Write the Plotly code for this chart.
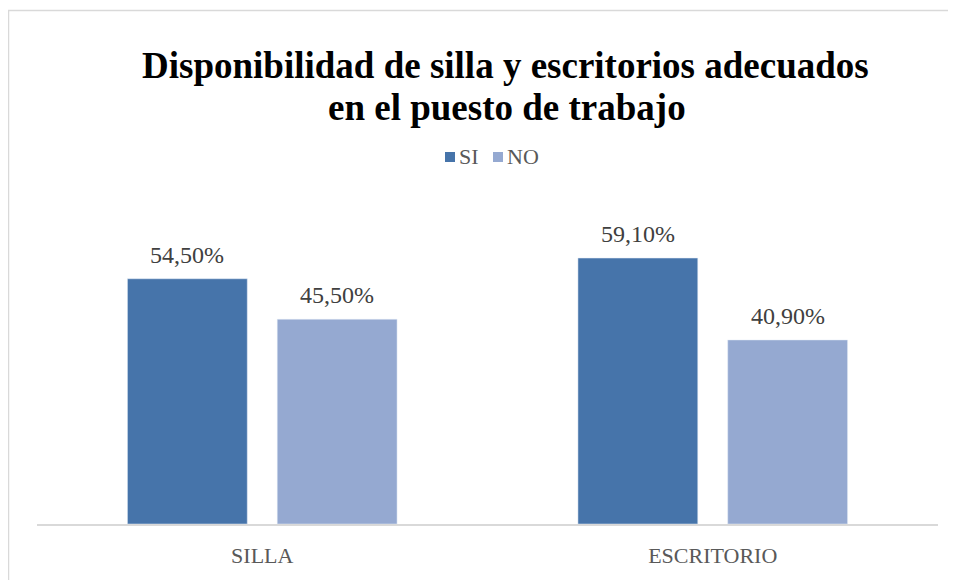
import plotly.graph_objects as go

categories = ["SILLA", "ESCRITORIO"]
series_names = ["SI", "NO"]
si_values = [54.5, 59.1]
no_values = [45.5, 40.9]
si_labels = ["54,50%", "59,10%"]
no_labels = ["45,50%", "40,90%"]
title_lines = ["Disponibilidad de silla y escritorios adecuados", "en el puesto de trabajo"]

# page body adds an 8px margin, so figure coords = screen coords - 8
OFF = 8
W, H = 956 - OFF, 580 - OFF
ml, mr, mt, mb = 29, 18, 201, 56
pw, ph = W - ml - mr, H - mt - mb

def px(x):
    return (x - OFF - ml) / pw

def py(y):
    return (H - mb - (y - OFF)) / ph

SI_COLOR, NO_COLOR = "#4674AA", "#95A9D1"
BARGAP, BARGROUPGAP = 0.335, 0.2
SERIF = "Liberation Serif"

fig = go.Figure()
fig.add_trace(go.Bar(name=series_names[0], x=categories, y=si_values,
                     marker_color=SI_COLOR, showlegend=False))
fig.add_trace(go.Bar(name=series_names[1], x=categories, y=no_values,
                     marker_color=NO_COLOR, showlegend=False))

annotations = []
slot = (1 - BARGAP) / 2
for vals, labels, shift in [(si_values, si_labels, -slot / 2), (no_values, no_labels, slot / 2)]:
    for i, (v, t) in enumerate(zip(vals, labels)):
        annotations.append(dict(x=i + shift, y=v, xref="x", yref="y", text=t,
                                showarrow=False, yanchor="bottom", yshift=9,
                                font=dict(family=SERIF, size=24, color="#404040")))

for line, (cx, cy) in zip(title_lines, [(505, 65), (507, 107)]):
    annotations.append(dict(text="<b>" + line + "</b>", x=px(cx), y=py(cy),
                            xref="paper", yref="paper", xanchor="center", yanchor="middle",
                            showarrow=False,
                            font=dict(family=SERIF, size=37, color="black")))

# legend (manual, compact Excel style)
shapes = []
for name, col, sx in [(series_names[0], SI_COLOR, 445), (series_names[1], NO_COLOR, 493)]:
    shapes.append(dict(type="rect", xref="paper", yref="paper",
                       x0=px(sx), x1=px(sx + 10), y0=py(162), y1=py(152),
                       fillcolor=col, line=dict(width=0)))
    annotations.append(dict(text=name, x=px(sx + 12), y=py(157), xref="paper", yref="paper",
                            xanchor="left", yanchor="middle", showarrow=False,
                            font=dict(family=SERIF, size=22, color="#595959")))

shapes.append(dict(type="rect", xref="paper", yref="paper",
                   x0=px(8.5), x1=px(1000), y0=py(10.5), y1=py(700),
                   line=dict(color="#D9D9D9", width=1.5)))

fig.update_layout(
    width=W, height=H,
    margin=dict(l=ml, r=mr, t=mt, b=mb),
    paper_bgcolor="white", plot_bgcolor="white",
    barmode="group", bargap=BARGAP, bargroupgap=BARGROUPGAP,
    showlegend=False,
    xaxis=dict(showline=True, linecolor="#D9D9D9", linewidth=2, ticks="",
               tickfont=dict(family=SERIF, size=22, color="#595959"),
               ticklabelstandoff=11, showgrid=False),
    yaxis=dict(range=[0, 70], visible=False, showgrid=False),
    annotations=annotations,
    shapes=shapes,
)

fig.write_html("out.html")
